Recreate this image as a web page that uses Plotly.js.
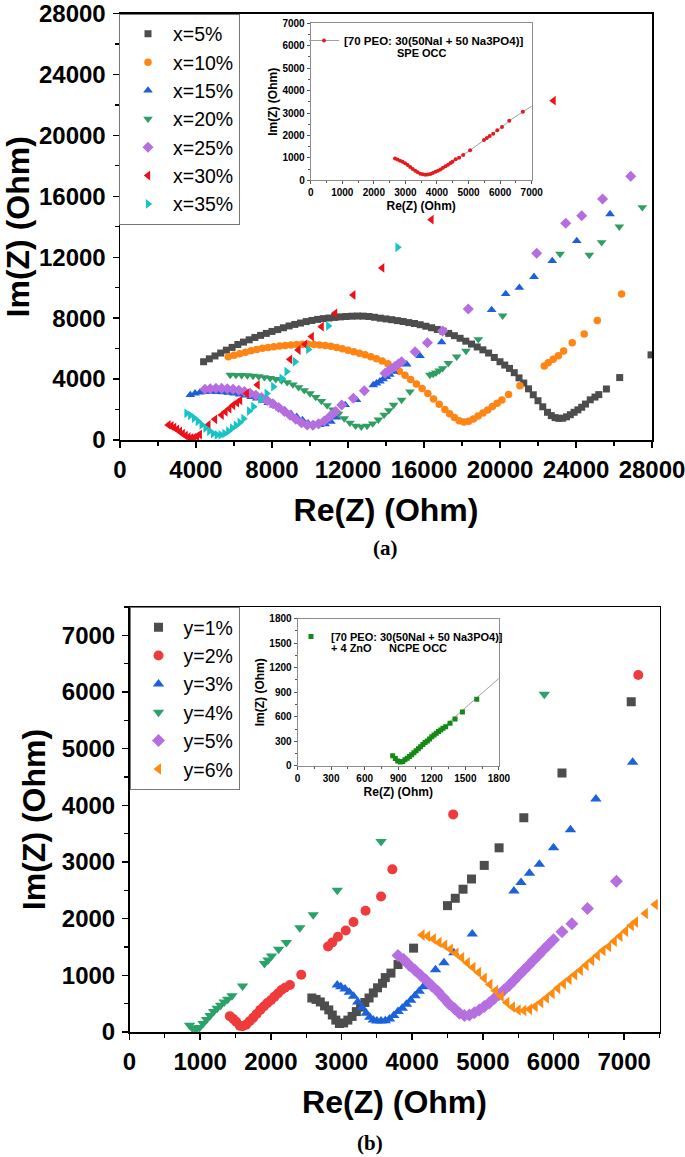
<!DOCTYPE html>
<html><head><meta charset="utf-8">
<script src="https://cdn.plot.ly/plotly-3.0.1.min.js"></script>
<style>html,body{margin:0;padding:0;background:#fff}</style>
</head><body><div id="chart" style="width:685px;height:1157px"></div>
<script>
// ---------- Panel (a): SPE with x% ----------
const x5X = [4400,4700,5000,5300,5600,5900,6200,6500,6800,7100,7400,7700,8000,8300,8600,8900,9200,9500,9800,10100,10400,10700,11000,11300,11600,11900,12200,12500,12800,13100,13400,13700,14000,14300,14600,14900,15200,15500,15800,16100,16400,16700,17000,17300,17600,17900,18200,18500,18800,19100,19400,19700,20000,20250,20500,20750,21000,21250,21500,21750,22000,22250,22500,22700,22900,23100,23300,23500,23700,23900,24100,24300,24500,24750,25000,25200,25600,26300,27950];
const x5Y = [5140,5330,5520,5710,5900,6080,6270,6430,6580,6735,6870,7000,7130,7250,7370,7490,7590,7680,7775,7850,7920,7970,8010,8050,8085,8110,8130,8140,8135,8110,8060,8000,7950,7900,7840,7780,7710,7650,7570,7470,7370,7260,7150,7000,6850,6680,6490,6300,6110,5920,5710,5420,5140,4920,4700,4420,4080,3740,3360,2970,2580,2180,1820,1600,1470,1420,1430,1520,1660,1820,1980,2150,2360,2640,2820,2980,3350,4100,5590];

const x10X = [5700,6000,6300,6600,6900,7200,7500,7800,8100,8400,8700,9000,9300,9600,9900,10200,10500,10800,11100,11400,11700,12000,12300,12600,12900,13200,13500,13800,14100,14400,14700,15000,15300,15600,15900,16200,16500,16800,17100,17350,17600,17850,18100,18350,18600,18850,19100,19350,19600,19850,20100,20450,21050,22330,22540,22800,23070,23350,23800,24430,25120,26400];
const x10Y = [5470,5570,5660,5760,5860,5950,6020,6080,6130,6170,6210,6240,6265,6280,6285,6270,6240,6200,6150,6080,6000,5900,5800,5700,5590,5470,5340,5180,5000,4760,4510,4250,3970,3680,3380,3050,2700,2350,2010,1730,1480,1270,1190,1230,1380,1570,1770,1970,2200,2420,2620,2980,3570,4860,5080,5300,5540,5850,6390,6960,7840,9590];

const x15X = [3700,3950,4200,4500,4800,5100,5400,5700,6000,6300,6600,6900,7200,7500,7800,8100,8400,8700,9000,9300,9600,9900,10200,10500,10800,11100,11400,11850,12450,13330,13500,13680,13850,14030,14200,14390,15090,15790,16930,19560,20300,21020,21790,22750,24040,25790];
const x15Y = [2960,3070,3120,3160,3170,3160,3140,3110,3060,3000,2930,2840,2730,2590,2440,2280,2100,1920,1720,1520,1320,1100,1010,990,1040,1200,1480,2300,2630,3610,3720,3850,3990,4150,4300,4490,4970,5520,6420,8540,9590,10000,10720,11760,13070,14840];

const x20X = [5800,6100,6400,6700,7000,7300,7600,7900,8200,8500,8800,9100,9400,9700,10000,10300,10600,10900,11200,11500,11800,12100,12400,12700,13000,13300,13600,13900,14150,14400,14820,15260,16310,16480,16630,16800,16980,17280,17720,18210,18860,20140,23160,24700,25350,26280,27490];
const x20Y = [4270,4265,4255,4240,4210,4170,4120,4060,3990,3900,3790,3640,3460,3260,3060,2820,2560,2280,2000,1720,1420,1130,930,870,920,1080,1330,1650,1950,2300,2630,3170,4270,4340,4420,4560,4710,5040,5470,5850,6610,8160,12220,12150,12980,14010,15280];

const x25X = [4470,4750,5050,5350,5650,5950,6250,6550,6850,7150,7450,7750,8050,8350,8650,8950,9250,9550,9850,10150,10450,10750,11050,11350,11670,12280,12860,13950,14130,14300,14470,14650,14820,15530,16180,16980,18330,21930,23460,24300,25400,26880];
const x25Y = [3330,3370,3395,3390,3370,3330,3270,3180,3070,2940,2790,2600,2380,2140,1880,1620,1360,1130,990,970,1060,1250,1550,1870,2300,2740,3240,4380,4530,4690,4830,4990,5140,5800,6390,7160,8600,12260,14230,14730,15830,17320];

const x30X = [2550,2700,2850,3000,3150,3300,3450,3600,3750,3900,4050,4200,4650,5000,5350,5550,5750,5950,6150,6320,6670,7240,8950,9390,9740,10090,10610,11320,12280,13800,16390,22820];
const x30Y = [990,920,820,700,560,420,290,190,140,150,230,360,985,1360,1640,1850,2060,2280,2450,2600,3060,3620,5300,5910,6280,6790,7440,8320,9520,11300,14470,22280];

const x35X = [3500,3700,3900,4100,4300,4500,4700,4900,5100,5300,5500,5700,5900,6100,6300,6500,6800,7020,7400,7720,8070,8510,8770,9210,9910,10960,14610];
const x35Y = [1750,1620,1440,1230,1000,780,580,420,340,340,420,580,780,960,1150,1400,1900,2190,2680,3060,3500,4050,4490,5140,5950,7490,12650];

// inset (a): SPE OCC
const speX = [2670,2750,2830,2910,2990,3070,3150,3230,3310,3390,3470,3550,3630,3710,3790,3870,3950,4030,4110,4190,4270,4350,4430,4490,4590,4700,4830,5050,5490,5580,5670,5780,5910,6060,6290,6720,7500];
const speY = [970,930,880,830,760,690,600,510,430,360,300,270,255,260,290,330,380,430,490,560,630,700,780,830,940,1010,1130,1340,1800,1890,1980,2080,2230,2380,2660,3060,3760];

// ---------- Panel (b): NCPE with y% ----------
const y1X = [2580,2640,2700,2760,2820,2870,2920,2970,3030,3090,3150,3210,3270,3330,3390,3450,3510,3580,3620,3700,3800,4020,4500,4610,4720,4840,5020,5230,5580,6120,7100];
const y1Y = [600,575,530,460,390,300,210,150,160,210,275,360,440,520,600,690,780,860,960,1040,1190,1480,2230,2360,2520,2700,2940,3250,3780,4570,5830];

const y2X = [1420,1470,1510,1560,1600,1650,1700,1750,1800,1850,1900,1950,2000,2050,2100,2150,2200,2270,2430,2810,2870,2950,3060,3170,3340,3560,3720,4580,7200];
const y2Y = [280,230,180,110,100,130,190,250,320,390,450,510,560,620,680,740,780,830,1010,1510,1580,1680,1790,1940,2140,2390,2870,3840,6300];

const y3X = [2940,2990,3050,3110,3170,3230,3290,3350,3400,3450,3500,3560,3620,3680,3740,3800,3860,3920,3980,4040,4100,4160,4210,4330,4450,4590,4850,5440,5540,5660,5800,6000,6240,6600,7120];
const y3Y = [830,800,760,700,630,530,430,330,260,210,195,195,200,230,290,360,420,490,560,640,720,800,880,1100,1220,1400,1730,2490,2640,2800,2960,3250,3570,4110,4760];

const y4X = [850,890,940,990,1040,1090,1140,1190,1240,1290,1340,1390,1450,1600,1910,1960,2010,2110,2220,2410,2600,2940,3560,5870];
const y4Y = [120,70,40,80,150,220,290,360,420,470,530,580,640,810,1210,1270,1340,1460,1580,1840,2070,2500,3360,5960];

const y5X = [3800,3880,3960,4040,4120,4200,4280,4360,4440,4520,4600,4670,4740,4810,4880,4950,5020,5090,5160,5230,5300,5370,5440,5510,5580,5650,5720,5790,5860,5930,6000,6120,6260,6480,6890];
const y5Y = [1350,1280,1180,1090,1000,910,810,720,610,500,410,330,290,300,340,390,450,510,590,660,740,820,910,1000,1090,1180,1270,1360,1450,1540,1630,1770,1910,2180,2660];

const y6X = [4140,4220,4300,4380,4460,4540,4620,4700,4780,4860,4940,5020,5100,5180,5260,5340,5420,5500,5580,5660,5740,5820,5900,5980,6060,6140,6220,6300,6380,6460,6540,6620,6700,6780,6860,6940,7020,7100,7160,7300,7440];
const y6Y = [1710,1690,1640,1580,1530,1460,1390,1310,1220,1140,1050,950,840,730,630,520,440,390,380,400,450,520,600,680,770,850,930,1010,1090,1180,1260,1350,1440,1510,1600,1690,1780,1880,1940,2090,2250];

// inset (b): NCPE OCC
const ncpeX = [850,874,895,919,940,960,980,1000,1020,1040,1060,1080,1100,1120,1140,1160,1180,1200,1220,1240,1260,1280,1300,1324,1363,1408,1474,1602];
const ncpeY = [123,90,61,49,55,75,95,115,135,160,185,210,235,260,285,305,330,355,378,400,420,440,460,479,520,573,659,814];
const fitX = [1230,1800];
const fitY = [385,1070];

const namesA = ['x=5%','x=10%','x=15%','x=20%','x=25%','x=30%','x=35%'];
const namesB = ['y=1%','y=2%','y=3%','y=4%','y=5%','y=6%'];
const insetNameA = '[70 PEO: 30(50NaI + 50 Na3PO4)]';
const insetNameB = '[70 PEO: 30(50NaI + 50 Na3PO4)]';

const FONT = 'Liberation Sans, Arial, Helvetica, sans-serif';

const seriesA = [
  [x5X,x5Y,'#4d4d4d','square',7],
  [x10X,x10Y,'#ff8514','circle',7.5],
  [x15X,x15Y,'#1c5fd8','triangle-up',8.5],
  [x20X,x20Y,'#2e9e62','triangle-down',8.5],
  [x25X,x25Y,'#b46ee0','diamond',8.5],
  [x30X,x30Y,'#ec1118','triangle-left',8.5],
  [x35X,x35Y,'#16c3c6','triangle-right',8.5]
];
const seriesB = [
  [y1X,y1Y,'#4d4d4d','square',9],
  [y2X,y2Y,'#ef3b3b','circle',10],
  [y3X,y3Y,'#1c62d9','triangle-up',10],
  [y4X,y4Y,'#2aa36a','triangle-down',10],
  [y5X,y5Y,'#b56fe0','diamond',10],
  [y6X,y6Y,'#ff8a10','triangle-left',10]
];

const traces = [];
seriesA.forEach((s,i)=>traces.push({
  x:s[0], y:s[1], name:namesA[i], type:'scatter', mode:'markers',
  xaxis:'x', yaxis:'y', legend:'legend',
  marker:{color:s[2], symbol:s[3], size:s[4], line:{width:0}}
}));
seriesB.forEach((s,i)=>traces.push({
  x:s[0], y:s[1], name:namesB[i], type:'scatter', mode:'markers',
  xaxis:'x2', yaxis:'y2', legend:'legend3',
  marker:{color:s[2], symbol:s[3], size:s[4], line:{width:0}}
}));
traces.push({x:speX, y:speY, name:insetNameA, type:'scatter', mode:'lines+markers',
  xaxis:'x3', yaxis:'y3', legend:'legend2',
  line:{color:'#a0a0a0', width:1}, marker:{color:'#e41a1c', size:4, symbol:'circle'}});
traces.push({x:fitX, y:fitY, showlegend:false, type:'scatter', mode:'lines',
  xaxis:'x4', yaxis:'y4', line:{color:'#a0a0a0', width:1}});
traces.push({x:ncpeX, y:ncpeY, name:insetNameB, type:'scatter', mode:'markers',
  xaxis:'x4', yaxis:'y4', legend:'legend4',
  marker:{color:'#138a13', size:5, symbol:'square'}});

function mainAxis(domain, range, dtick, mdtick, anchor, title, standoff){
  return {domain:domain, range:range, dtick:dtick, tick0:0, anchor:anchor,
    showline:true, linecolor:'#000', linewidth:1.5, mirror:true,
    ticks:'outside', ticklen:6, tickwidth:1.5, tickcolor:'#000',
    minor:{ticks:'outside', dtick:mdtick, ticklen:4, tickwidth:1.2, tickcolor:'#000'},
    showgrid:false, zeroline:false, tickformat:'d', ticklabelstandoff:2,
    ticklabeloverflow:'allow',
    tickfont:{family:FONT, size:24, weight:'bold', color:'#000'},
    title:{text:title, standoff:standoff, font:{family:FONT, size:32, weight:'bold', color:'#000'}}};
}
function insetAxis(domain, range, dtick, mdtick, anchor, title, standoff){
  return {domain:domain, range:range, dtick:dtick, tick0:0, anchor:anchor,
    showline:true, linecolor:'#8c8c8c', linewidth:1, mirror:true,
    ticks:'outside', ticklen:3, tickwidth:1, tickcolor:'#555',
    minor:{ticks:'outside', dtick:mdtick, ticklen:2, tickwidth:1, tickcolor:'#555'},
    showgrid:false, zeroline:false, tickformat:'d', ticklabeloverflow:'allow',
    tickfont:{family:FONT, size:10, weight:'bold', color:'#000'},
    title:{text:title, standoff:standoff, font:{family:FONT, size:12, weight:'bold', color:'#000'}}};
}

const H = 1157, W = 685;
const annFont = {family:FONT, size:11, weight:'bold', color:'#000'};
const capFont = {family:'Liberation Serif, Times New Roman, serif', size:21, weight:'bold', color:'#000'};
const layout = {
  width:W, height:H, margin:{l:0,r:0,t:0,b:0},
  paper_bgcolor:'#fff', plot_bgcolor:'#fff', showlegend:true,
  xaxis: mainAxis([120/W, 652/W], [0,28000], 4000, 2000, 'y', 'Re(Z) (Ohm)', 16),
  yaxis: mainAxis([1-440/H, 1-13.6/H], [0,28000], 4000, 2000, 'x', 'Im(Z) (Ohm)', 8),
  xaxis2: mainAxis([129.5/W, 659.5/W], [0,7500], 1000, 500, 'y2', 'Re(Z) (Ohm)', 16),
  yaxis2: mainAxis([1-1032/H, 1-607/H], [0,7500], 1000, 500, 'x2', 'Im(Z) (Ohm)', 6),
  xaxis3: insetAxis([310.7/W, 531.7/W], [0,7000], 1000, 500, 'y3', 'Re(Z) (Ohm)', 4),
  yaxis3: insetAxis([1-180.4/H, 1-23.2/H], [0,7000], 1000, 500, 'x3', 'Im(Z) (Ohm)', 2),
  xaxis4: insetAxis([297.6/W, 498.9/W], [0,1800], 300, 150, 'y4', 'Re(Z) (Ohm)', 4),
  yaxis4: insetAxis([1-765.9/H, 1-618.6/H], [0,1800], 300, 150, 'x4', 'Im(Z) (Ohm)', 2),
  legend:{x:119/W, y:1-13.6/H, xanchor:'left', yanchor:'top', bgcolor:'#fff',
    bordercolor:'#777', borderwidth:1, indentation:3, itemwidth:40,
    font:{family:FONT, size:19.5, color:'#000'}},
  legend3:{x:129.5/W, y:1-607/H, xanchor:'left', yanchor:'top', bgcolor:'#fff',
    bordercolor:'#777', borderwidth:1, indentation:3, itemwidth:40,
    font:{family:FONT, size:19.5, color:'#000'}},
  legend2:{x:304/W, y:1-26/H, xanchor:'left', yanchor:'top', bgcolor:'rgba(0,0,0,0)',
    borderwidth:0, font:{family:FONT, size:11.5, weight:'bold', color:'#000'}},
  legend4:{x:291/W, y:1-622/H, xanchor:'left', yanchor:'top', bgcolor:'rgba(0,0,0,0)',
    borderwidth:0, font:{family:FONT, size:11, weight:'bold', color:'#000'}},
  annotations:[
    {text:'SPE OCC', xref:'paper', yref:'paper', x:421.7/W, y:1-53.3/H, xanchor:'center', yanchor:'middle', showarrow:false, font:annFont},
    {text:'+ 4 ZnO', xref:'paper', yref:'paper', x:351.7/W, y:1-647.7/H, xanchor:'center', yanchor:'middle', showarrow:false, font:annFont},
    {text:'NCPE OCC', xref:'paper', yref:'paper', x:418.3/W, y:1-647.7/H, xanchor:'center', yanchor:'middle', showarrow:false, font:annFont},
    {text:'(a)', xref:'paper', yref:'paper', x:385/W, y:1-548/H, xanchor:'center', yanchor:'middle', showarrow:false, font:capFont},
    {text:'(b)', xref:'paper', yref:'paper', x:370/W, y:1-1143/H, xanchor:'center', yanchor:'middle', showarrow:false, font:capFont}
  ]
};

Plotly.newPlot('chart', traces, layout, {displayModeBar:false, staticPlot:true});
</script></body></html>
